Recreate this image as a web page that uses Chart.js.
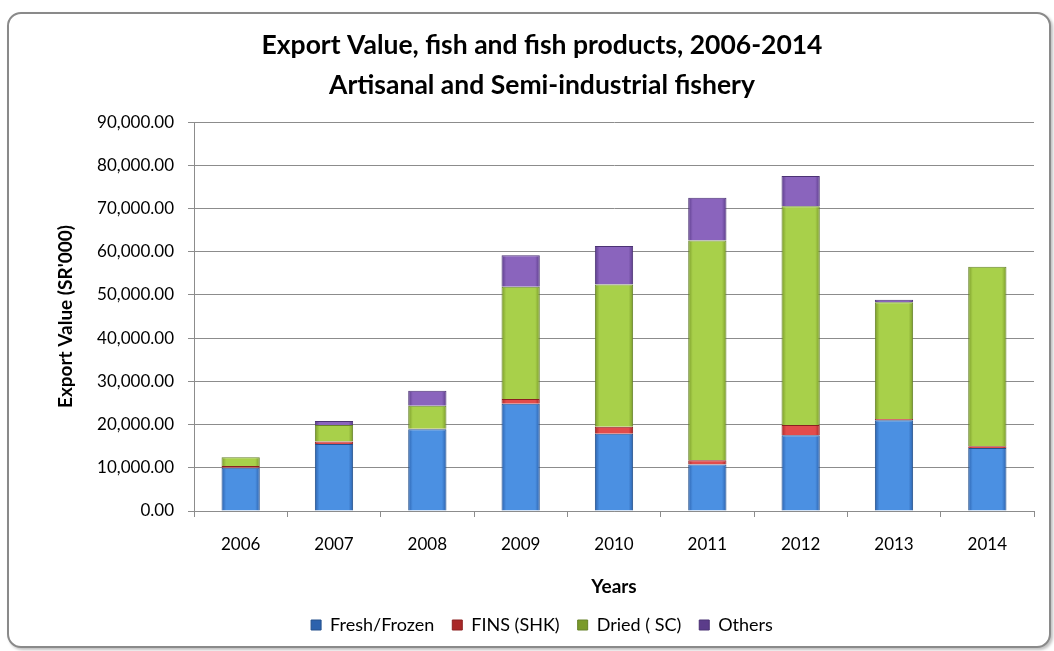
<!DOCTYPE html>
<html>
<head>
<meta charset="utf-8">
<script src="https://cdn.jsdelivr.net/npm/chart.js@4.4.1/dist/chart.umd.min.js"></script>
<style>
  html, body { margin: 0; padding: 0; background: #fff; }
  #frame {
    position: absolute; left: 7px; top: 12px; width: 1040px; height: 632px;
    border: 2px solid #8a8a8a; border-radius: 14px;
    box-shadow: 2px 2px 3px rgba(0,0,0,0.25);
    background: #fff;
  }
  #wrap { position: absolute; left: 0; top: 0; width: 1054px; height: 651px; }
</style>
</head>
<body>
<div id="frame"></div>
<div id="wrap"><canvas id="exportChart" width="1054" height="651"></canvas></div>
<script>
// values in SR'000
const years = ["2006", "2007", "2008", "2009", "2010", "2011", "2012", "2013", "2014"];
const freshFrozen = [10000, 15500, 18900, 24800, 17900, 10750, 17500, 21000, 14600];
const finsShk     = [400, 600, 150, 1100, 1600, 1000, 2400, 300, 400];
const driedSc     = [2050, 3800, 5300, 26000, 32900, 50850, 50600, 27000, 41500];
const others      = [0, 900, 3500, 7300, 8900, 9900, 7000, 600, 0];

const font = "Lato, 'Open Sans', sans-serif";
const BAR_SHARE = 0.41;

// colour sets: [edge, centre, border]
const palette = {
  blue:   ["#2c62ad", "#4b90e2", "#24508c"],
  red:    ["#a92828", "#e24c4c", "#8c2020"],
  green:  ["#7a9a2a", "#a8d04a", "#66822a"],
  purple: ["#5b3c8a", "#8a64bd", "#4b3274"]
};

function barFill(colors) {
  return function (context) {
    const chart = context.chart;
    if (!chart.chartArea || context.dataIndex === undefined) return colors[1];
    const x = chart.scales.x;
    const cx = x.getPixelForValue(context.dataIndex);
    const hw = (chart.chartArea.width / years.length) * BAR_SHARE / 2;
    const g = chart.ctx.createLinearGradient(cx - hw, 0, cx + hw, 0);
    g.addColorStop(0, colors[0]);
    g.addColorStop(0.12, colors[1]);
    g.addColorStop(0.5, colors[1]);
    g.addColorStop(0.88, colors[1]);
    g.addColorStop(1, colors[0]);
    return g;
  };
}

function makeSet(label, data, colors) {
  return {
    label: label,
    data: data,
    backgroundColor: barFill(colors),
    borderColor: colors[2],
    borderWidth: 1,
    barPercentage: BAR_SHARE,
    categoryPercentage: 1
  };
}

const ctx = document.getElementById("exportChart").getContext("2d");

new Chart(ctx, {
  type: "bar",
  data: {
    labels: years,
    datasets: [
      makeSet("Fresh/Frozen", freshFrozen, palette.blue),
      makeSet("FINS (SHK)", finsShk, palette.red),
      makeSet("Dried ( SC)", driedSc, palette.green),
      makeSet("Others", others, palette.purple)
    ]
  },
  options: {
    responsive: false,
    animation: false,
    layout: { padding: { left: 50, right: 20, top: 25, bottom: 7 } },
    plugins: {
      title: {
        display: true,
        text: ["Export Value, fish and fish products, 2006-2014", "Artisanal and Semi-industrial fishery"],
        color: "#000",
        font: { family: font, size: 26.5, weight: "bold", lineHeight: 1.51 },
        padding: { top: 0, bottom: 17 }
      },
      legend: {
        position: "bottom",
        labels: {
          color: "#000",
          font: { family: font, size: 18 },
          boxWidth: 10,
          boxHeight: 10,
          padding: 18
        }
      },
      tooltip: { enabled: false }
    },
    scales: {
      x: {
        stacked: true,
        grid: { drawOnChartArea: false, drawTicks: true, tickLength: 6, offset: true, color: "#8c8c8c" },
        border: { color: "#8c8c8c" },
        ticks: { color: "#000", font: { family: font, size: 17 }, padding: 17 },
        title: {
          display: true,
          text: "Years",
          color: "#000",
          font: { family: font, size: 19, weight: "bold" },
          padding: { top: 10, bottom: 0 }
        },
        afterFit: s => { s.height = 87; }
      },
      y: {
        stacked: true,
        min: 0,
        max: 90000,
        grid: { color: "#8c8c8c", tickLength: 6 },
        border: { color: "#8c8c8c" },
        ticks: {
          stepSize: 10000,
          color: "#000",
          padding: 14,
          font: { family: font, size: 17 },
          callback: v => v.toLocaleString("en-US", { minimumFractionDigits: 2, maximumFractionDigits: 2 })
        },
        title: {
          display: true,
          text: "Export Value (SR'000)",
          color: "#000",
          font: { family: font, size: 19, weight: "bold" },
          padding: { top: 4, bottom: 4 }
        },
        afterFit: s => { s.width = 144; }
      }
    }
  }
});
</script>
</body>
</html>
